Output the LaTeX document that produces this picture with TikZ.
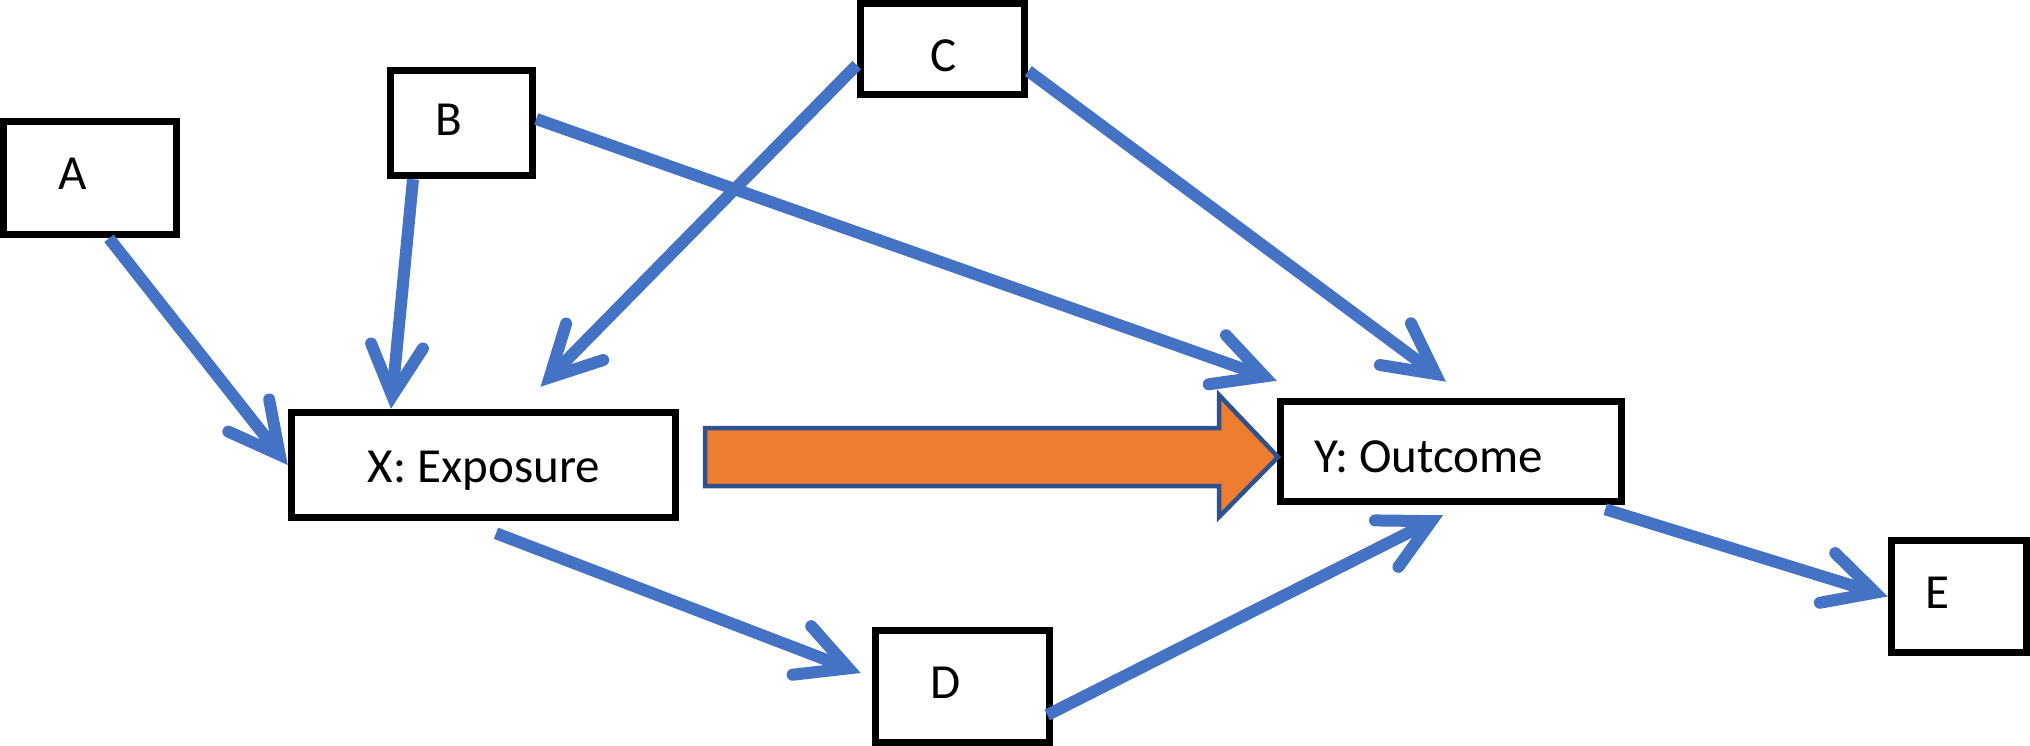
\documentclass[tikz,border=0pt]{standalone}
\usepackage{fontspec}
\setmainfont{Carlito}
\usetikzlibrary{arrows.meta,calc}
\definecolor{linkblue}{HTML}{4472C4}
\definecolor{arroworange}{HTML}{ED7D31}
\definecolor{arrowedge}{HTML}{2F528F}
\begin{document}
\begin{tikzpicture}[x=1pt,y=-1pt,
  box/.style={draw=black, line width=7.5pt, fill=white, inner sep=0pt, rectangle},
  lbl/.style={font=\fontsize{49}{59}\selectfont, anchor=base, inner sep=0pt},
  link/.style={draw=linkblue, line width=12pt,
    -{Straight Barb[length=50pt,width=52pt,line cap=round,line join=miter]}},
  bigarrow/.style={fill=arroworange, draw=arrowedge, line width=4.5pt, line join=miter},
]
\useasboundingbox (0,0) rectangle (2030,746);

% boxes
\node[box, minimum width=173pt, minimum height=113pt] (A) at (90,178) {};
\node[box, minimum width=142pt, minimum height=105pt] (B) at (461.5,123) {};
\node[box, minimum width=164pt, minimum height=91pt]  (C) at (942.5,49) {};
\node[box, minimum width=384pt, minimum height=105pt] (X) at (483.5,465) {};
\node[box, minimum width=341pt, minimum height=100pt] (Y) at (1451,451.5) {};
\node[box, minimum width=174pt, minimum height=112pt] (D) at (962.5,686.5) {};
\node[box, minimum width=135pt, minimum height=112pt] (E) at (1959,596.5) {};

% labels
\node[lbl] (Atxt) at ([xshift=-17pt,yshift=-12pt]A.center) {A};
\node[lbl] (Btxt) at ([xshift=-12.5pt,yshift=-13pt]B.center) {B};
\node[lbl] (Ctxt) at ([xshift=1.5pt,yshift=-23pt]C.center) {C};
\node[lbl] (Xtxt) at ([xshift=0.5pt,yshift=-17pt]X.center) {X: Exposure};
\node[lbl] (Ytxt) at ([xshift=-22pt,yshift=-20.5pt]Y.center) {Y: Outcome};
\node[lbl] (Dtxt) at ([xshift=-16.5pt,yshift=-11.5pt]D.center) {D};
\node[lbl] (Etxt) at ([xshift=-22pt,yshift=-11.5pt]E.center) {E};

% connectors
\draw[link] ([xshift=19pt]A.south) -- (X.west);
\draw[link] ([xshift=-48.5pt]B.south) -- ([xshift=-92.5pt]X.north);
\draw[link] ([yshift=-16pt]C.west) -- ([xshift=57pt,yshift=22pt]X.north);
\draw[link] ([yshift=4pt]B.east) -- ([yshift=17pt]Y.north west);
\draw[link] ([yshift=-22pt]C.east) -- ([xshift=-5pt,yshift=16pt]Y.north);
\draw[link] ([xshift=12.5pt,yshift=-12pt]X.south) -- ([xshift=-11pt,yshift=13.5pt]D.west);
\draw[link] ([xshift=-6pt,yshift=-28.5pt]D.east) -- ([xshift=-8pt,yshift=-10pt]Y.south);
\draw[link] ([xshift=-20pt,yshift=-4pt]Y.south east) -- (E.west);

% big orange arrow X -> Y
\coordinate (otail) at (705,457);
\coordinate (otip) at (1278,457);
\draw[bigarrow] ($(otail)+(0,-29)$) -- ($(otail)+(514,-29)$) -- ($(otail)+(514,-62)$)
  -- (otip) -- ($(otail)+(514,60)$) -- ($(otail)+(514,29)$) -- ($(otail)+(0,29)$) -- cycle;
\end{tikzpicture}
\end{document}
